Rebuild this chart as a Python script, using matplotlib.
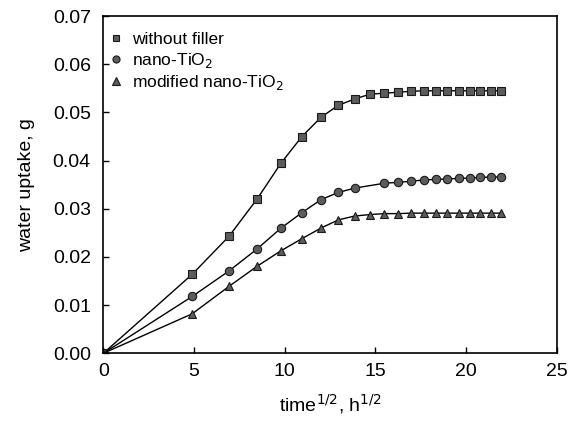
import matplotlib
matplotlib.use("Agg")
import matplotlib.pyplot as plt

plt.rcParams["font.family"] = ["Liberation Sans", "DejaVu Sans"]

# ── data ─────────────────────────────────────────────────────────────────────
x_full = [0, 4.90, 6.93, 8.49, 9.80, 10.95, 12.00, 12.96, 13.86, 14.70, 15.49,
          16.25, 16.97, 17.66, 18.33, 18.97, 19.60, 20.20, 20.78, 21.35, 21.91]
x_nano = [0, 4.90, 6.93, 8.49, 9.80, 10.95, 12.00, 12.96, 13.86, 15.49,
          16.25, 16.97, 17.66, 18.33, 18.97, 19.60, 20.20, 20.78, 21.35, 21.91]

y_without = [0, 0.0164, 0.0243, 0.0321, 0.0395, 0.0450, 0.0490, 0.0515, 0.0528,
             0.0538, 0.0540, 0.0542, 0.0544, 0.0545, 0.0545, 0.0545, 0.0545,
             0.0545, 0.0545, 0.0545, 0.0545]
y_nano = [0, 0.0118, 0.0171, 0.0217, 0.0260, 0.0292, 0.0319, 0.0334, 0.0343,
          0.0353, 0.0355, 0.0357, 0.0360, 0.0361, 0.0362, 0.0363, 0.0364,
          0.0365, 0.0366, 0.0366]
y_modified = [0, 0.0082, 0.0139, 0.0181, 0.0213, 0.0238, 0.0260, 0.0277, 0.0285,
              0.0288, 0.0290, 0.0290, 0.0291, 0.0291, 0.0291, 0.0291, 0.0291,
              0.0291, 0.0291, 0.0291, 0.0291]

labels = ["without filler", "nano-TiO$_2$", "modified nano-TiO$_2$"]
x_ticks = [0, 5, 10, 15, 20, 25]
y_ticks = [0.00, 0.01, 0.02, 0.03, 0.04, 0.05, 0.06, 0.07]

# ── figure ───────────────────────────────────────────────────────────────────
fig = plt.figure(figsize=(5.79, 4.23), dpi=100, facecolor="white")
ax = fig.add_axes([0.1785, 0.1648, 0.783, 0.797])

mk = dict(color="black", linewidth=1.0, markerfacecolor="#5c5c5c",
          markeredgecolor="#1a1a1a", markeredgewidth=0.8)
ax.plot(x_full, y_without, marker="s", markersize=5.6, label=labels[0], **mk)
ax.plot(x_nano, y_nano, marker="o", markersize=6.0, label=labels[1], **mk)
ax.plot(x_full, y_modified, marker="^", markersize=6.4, label=labels[2], **mk)

ax.set_xlim(0, 25)
ax.set_ylim(0, 0.07)
ax.set_xticks(x_ticks)
ax.set_yticks(y_ticks)
ax.set_xticklabels([str(t) for t in x_ticks])
ax.set_yticklabels([f"{t:.2f}" for t in y_ticks])
ax.tick_params(direction="in", length=4, width=1, labelsize=14)
ax.tick_params(axis="y", pad=9)
ax.tick_params(axis="x", pad=7)
for s in ax.spines.values():
    s.set_linewidth(1.2)

ax.set_xlabel("time$^{1/2}$, h$^{1/2}$", fontsize=14, labelpad=9)
ax.set_ylabel("water uptake, g", fontsize=14, labelpad=13)

leg = ax.legend(loc="upper left", frameon=False, fontsize=12.5,
                handlelength=0.6, handletextpad=0.6, labelspacing=0.22,
                borderaxespad=0.3, markerscale=0.85,
                bbox_to_anchor=(-0.01, 0.99))
for h in leg.legend_handles:
    h.set_linestyle("none")

fig.savefig("out.png", dpi=100, facecolor="white")
